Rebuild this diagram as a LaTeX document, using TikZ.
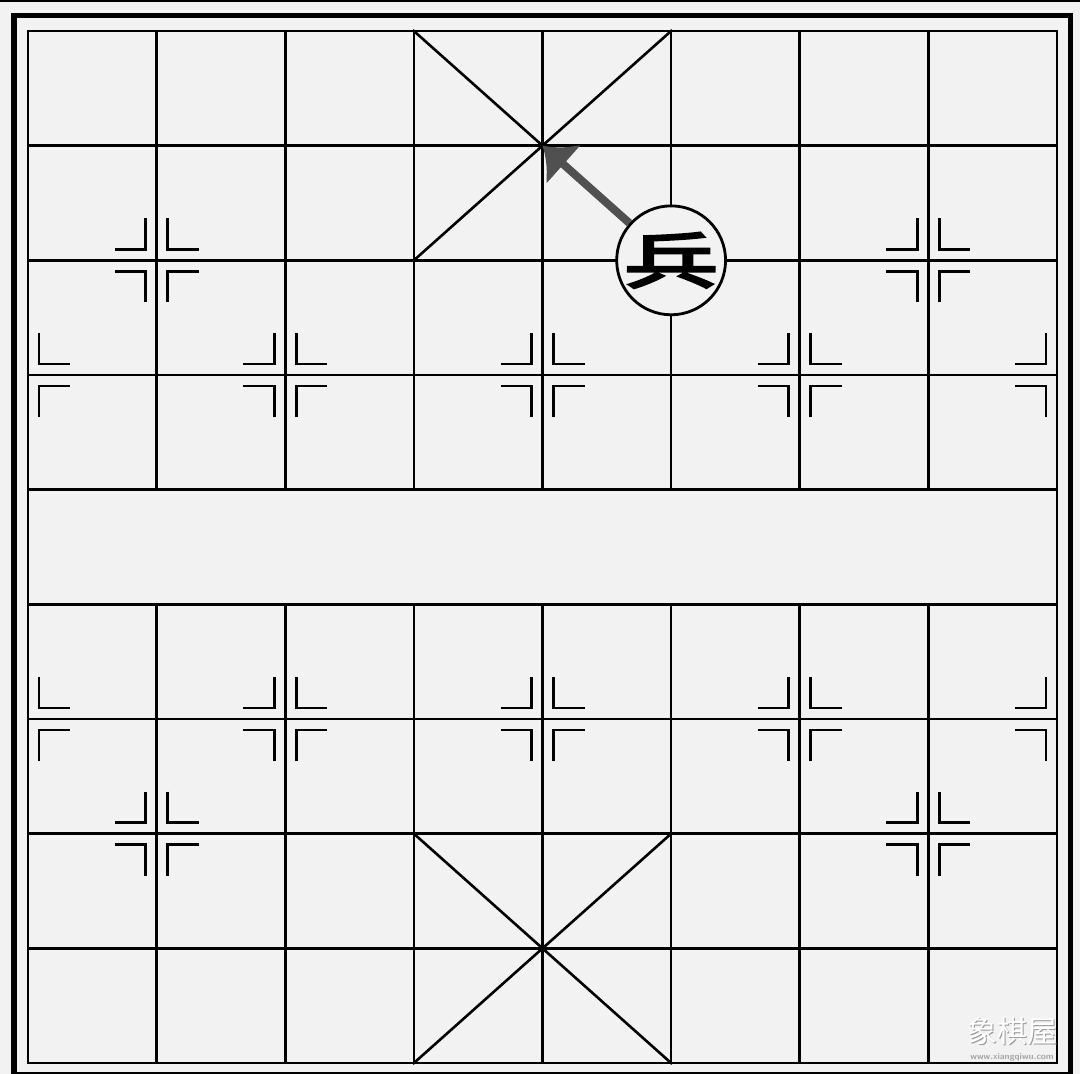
\documentclass[tikz,border=0pt]{standalone}
\usepackage{fontspec}
\usepackage{graphicx}
\newfontfamily\cjk[AutoFakeBold=4]{Noto Sans CJK SC}
\usetikzlibrary{arrows.meta, positioning}
\definecolor{boardbg}{HTML}{F2F2F2}
\definecolor{arrowgray}{HTML}{505050}

% four corner marks round a point, on one side (#3 = -1 left, 1 right)
\newcommand{\starmark}[3]{%
  \foreach \sy in {-1,1}
    \draw[starline] (#1,#2) ++(#3*5.5pt,\sy*21pt) -- ++(0pt,\sy*-15.5pt) -- ++(#3*15.5pt,0pt);}

\begin{document}
\begin{tikzpicture}[x=0.5pt, y=-0.5pt,
    gridline/.style={line width=1.3pt, line cap=rect},
    starline/.style={line width=1.3pt},
    piece/.style={circle, draw, line width=1.4pt, minimum size=50pt, inner sep=0pt, fill=boardbg},
    move/.style={draw=arrowgray, line width=4pt, -{Latex[length=14pt,width=27pt]}}]
  \fill[boardbg] (0,0) rectangle (1080,1074);
  \useasboundingbox (0,0) rectangle (1080,1074);
  \fill (0,0) rectangle (1080,2.5);
  \draw[line width=2.9pt] (14,15.5) rectangle (1070.5,1075);
  \begin{scope}[shift={(28,31)}, x=64.3125pt, y=-57.335pt]
    % lines
    \foreach \r in {0,...,9} \draw[gridline] (0,\r) -- (8,\r);
    \draw[gridline] (0,0) -- (0,9) (8,0) -- (8,9);
    \foreach \c in {1,...,7} \draw[gridline] (\c,0) -- (\c,4) (\c,5) -- (\c,9);
    % palaces
    \draw[gridline] (3,0) -- (5,2) (5,0) -- (3,2) (3,7) -- (5,9) (5,7) -- (3,9);
    % marks
    \foreach \c/\r in {1/2,7/2,2/3,4/3,6/3,2/6,4/6,6/6,1/7,7/7}
      \foreach \sx in {-1,1} {\starmark{\c}{\r}{\sx}}
    \foreach \r in {3,6} {\starmark{0}{\r}{1} \starmark{8}{\r}{-1}}
    % soldier and its move
    \coordinate (palace) at (4,1);
    \node[piece] (bing) at (5,2) {\scalebox{1}[0.64]{\cjk\bfseries\fontsize{47pt}{47pt}\selectfont 兵}};
    \draw[move] (bing) -- (palace);
  \end{scope}
  % watermark
  \node[text=gray!80, font=\cjk\fontsize{15pt}{15pt}\selectfont] (wmshadow) at (1013.5,1032.5) {象棋屋};
  \node[text=white, font=\cjk\fontsize{15pt}{15pt}\selectfont] (wm) at (1012,1031) {象棋屋};
  \node[below=-3pt of wm, text=gray!70, font=\sffamily\bfseries\fontsize{4.5pt}{5pt}\selectfont] (url) {www.xiangqiwu.com};
\end{tikzpicture}
\end{document}
